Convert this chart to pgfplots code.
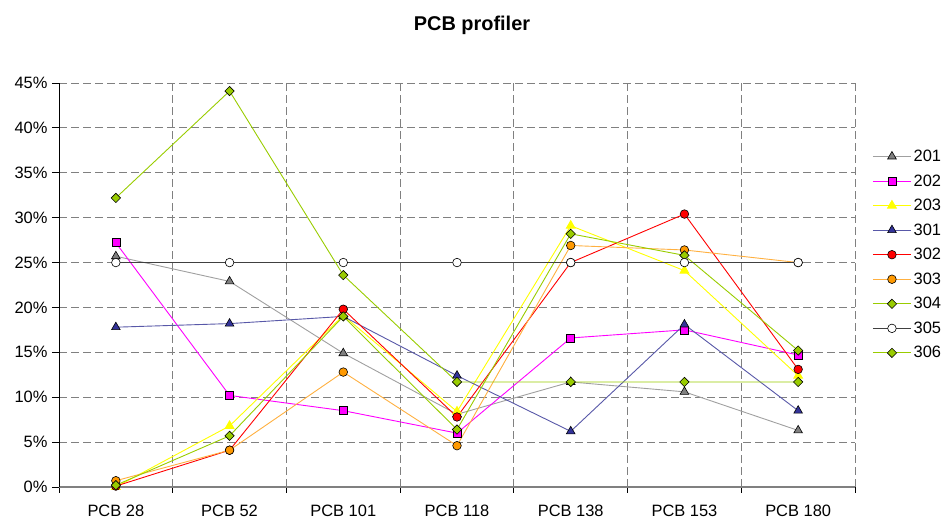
\documentclass[border=0pt]{standalone}
\usepackage{fontspec}
\setmainfont{Liberation Sans}
\usepackage{pgfplots}
\pgfplotsset{compat=1.18}
\definecolor{g201}{HTML}{A0A0A0}
\definecolor{m201}{HTML}{808080}
\definecolor{c202}{HTML}{FF00FF}
\definecolor{c203}{HTML}{FFFF00}
\definecolor{l301}{HTML}{5858A8}
\definecolor{m301}{HTML}{333399}
\definecolor{c302}{HTML}{FF0000}
\definecolor{l303}{HTML}{FFB040}
\definecolor{m303}{HTML}{FF9900}
\definecolor{c304}{HTML}{99CC00}
\definecolor{l305}{HTML}{404040}
\definecolor{gridc}{HTML}{808080}
\begin{document}
\begin{tikzpicture}[x=1bp,y=1bp]
\path[use as bounding box] (0,0) rectangle (945,527);
\node[font=\fontsize{20}{24}\selectfont\bfseries] at (472,502) {PCB profiler};
\begin{axis}[
  at={(59bp,40bp)}, anchor=south west,
  scale only axis, width=796bp, height=404bp,
  xmin=-0.5, xmax=6.5, ymin=0, ymax=45,
  axis x line=bottom, axis y line=left,
  axis line style={-},
  x axis line style={color=gridc, line width=1.2bp},
  y axis line style={color=black, line width=0.8bp},
  xtick={0,...,6},
  xticklabels={PCB 28,PCB 52,PCB 101,PCB 118,PCB 138,PCB 153,PCB 180},
  minor xtick={-0.5,0.5,...,6.5},
  major x tick style={draw=none},
  minor x tick style={color=black, line width=0.8bp},
  minor tick length=6bp,
  ytick={0,5,...,45},
  major tick length=7bp,
  y tick style={color=black, line width=0.8bp},
  tick align=outside,
  xmajorgrids=false, xminorgrids=true, ymajorgrids=true,
  major grid style={color=gridc, dash pattern=on 8bp off 4bp, line width=0.8bp},
  minor grid style={color=gridc, dash pattern=on 8bp off 4bp, line width=0.8bp},
  yticklabel={\pgfmathprintnumber{\tick}\%},
  /pgf/number format/assume math mode=true,
  tick label style={font=\fontsize{16.5}{19}\selectfont},
  xticklabel style={yshift=-8bp},
  yticklabel style={xshift=-1bp},
  clip=false,
  legend style={at={(1,0.575)}, anchor=west, xshift=14bp, draw=none, fill=none,
    font=\fontsize{16.5}{19}\selectfont, row sep=7.6bp, cells={anchor=west}},
  legend image code/.code={\draw[mark repeat=2,mark phase=2] plot coordinates {(0bp,0bp)(19bp,0bp)(38bp,0bp)};},
  every axis plot/.append style={line width=0.9bp},
]
\addplot[g201, mark=triangle*, mark size=5bp, mark options={fill=m201, draw=black, line width=0.6bp}]
  coordinates {(0,25.7)(1,22.9)(2,14.9)(3,8.1)(4,11.7)(5,10.6)(6,6.3)};
\addlegendentry{201}
\addplot[c202, mark=square*, mark size=4bp, mark options={fill=c202, draw=black, line width=0.6bp}]
  coordinates {(0,27.2)(1,10.2)(2,8.5)(3,6.0)(4,16.6)(5,17.5)(6,14.7)};
\addlegendentry{202}
\addplot[c203, mark=triangle*, mark size=5bp, mark options={fill=c203, draw=c203}]
  coordinates {(0,0.0)(1,6.8)(2,19.1)(3,8.4)(4,29.1)(5,24.1)(6,12.4)};
\addlegendentry{203}
\addplot[l301, mark=triangle*, mark size=5bp, mark options={fill=m301, draw=black, line width=0.6bp}]
  coordinates {(0,17.8)(1,18.2)(2,19.0)(3,12.4)(4,6.2)(5,18.1)(6,8.5)};
\addlegendentry{301}
\addplot[c302, mark=*, mark size=4.3bp, mark options={fill=c302, draw=black, line width=0.6bp}]
  coordinates {(0,0.1)(1,4.1)(2,19.8)(3,7.8)(4,25.0)(5,30.4)(6,13.1)};
\addlegendentry{302}
\addplot[l303, mark=*, mark size=4.3bp, mark options={fill=m303, draw=black, line width=0.6bp}]
  coordinates {(0,0.7)(1,4.1)(2,12.8)(3,4.6)(4,26.9)(5,26.4)(6,25.0)};
\addlegendentry{303}
\addplot[c304, mark=square*, mark size=3.3bp, mark options={rotate=45, fill=c304, draw=black, line width=0.6bp}]
  coordinates {(0,0.2)(1,5.7)(2,19.0)(3,6.4)(4,28.2)(5,25.8)(6,15.2)};
\addlegendentry{304}
\addplot[l305, line width=1.5bp, mark=*, mark size=4.3bp, mark options={fill=white, draw=black, line width=0.6bp}]
  coordinates {(0,25)(1,25)(2,25)(3,25)(4,25)(5,25)(6,25)};
\addlegendentry{305}
\addplot[c304, mark=square*, mark size=3.3bp, mark options={rotate=45, fill=c304, draw=black, line width=0.6bp}]
  coordinates {(0,32.2)(1,44.1)(2,23.6)(3,11.7)(4,11.7)(5,11.7)(6,11.7)};
\addlegendentry{306}
\end{axis}
\end{tikzpicture}
\end{document}
